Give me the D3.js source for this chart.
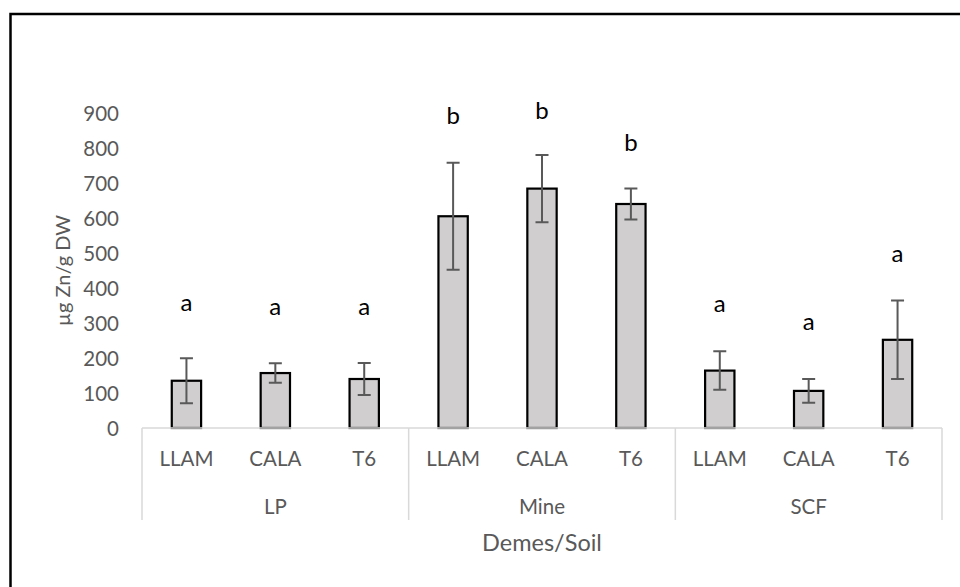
<!DOCTYPE html>
<html>
<head>
<meta charset="utf-8">
<script src="https://cdn.jsdelivr.net/npm/d3@7/dist/d3.min.js"></script>
<style>
  html, body { margin: 0; padding: 0; background: #fff; }
  svg { display: block; }
  text { font-family: Lato, "Open Sans", sans-serif; }
</style>
</head>
<body>
<svg id="chart" width="960" height="587"></svg>
<script>
// Zinc concentration by deme within each soil type
const soils   = ["LP", "Mine", "SCF"];
const demes   = ["LLAM", "CALA", "T6"];
const means   = [135, 157, 140, 605, 684, 640, 164, 106, 252];
const errors  = [64, 28, 46, 153, 96, 44, 55, 34, 112];
const letters = ["a", "a", "a", "b", "b", "b", "a", "a", "a"];
const letterAt = [335, 323, 323, 870, 882, 792, 332, 280, 475];
const yTicks  = [0, 100, 200, 300, 400, 500, 600, 700, 800, 900];
const yTitle  = "µg Zn/g DW";
const xTitle  = "Demes/Soil";

const rows = [];
soils.forEach((s, si) => demes.forEach((d, di) => {
  const i = si * demes.length + di;
  rows.push({ key: s + "|" + d, soil: s, deme: d, mean: means[i], err: errors[i],
              letter: letters[i], letterAt: letterAt[i] });
}));

const svg = d3.select("#chart");
const plot = { left: 142, right: 942, top: 113, bottom: 428 };

const x = d3.scaleBand().domain(rows.map(r => r.key))
  .range([plot.left, plot.right]).padding(0);
const y = d3.scaleLinear().domain([0, 900]).range([plot.bottom, plot.top]);
const barW = x.bandwidth() * 0.33;
const cx = k => x(k) + x.bandwidth() / 2;

// outer frame
svg.append("rect")
  .attr("x", 10.5).attr("y", 14).attr("width", 1200).attr("height", 900)
  .attr("fill", "none").attr("stroke", "#000").attr("stroke-width", 2.5);

// y tick labels
svg.append("g").selectAll("text").data(yTicks).join("text")
  .attr("x", 119).attr("y", d => y(d) + 7.5)
  .attr("text-anchor", "end").attr("fill", "#595959")
  .style("font-size", "20.5px").text(d => d);

// y title
svg.append("text")
  .attr("transform", `translate(70,${(plot.top + plot.bottom) / 2}) rotate(-90)`)
  .attr("text-anchor", "middle").attr("fill", "#595959")
  .style("font-size", "20px").text(yTitle);

// bars
svg.append("g").selectAll("rect").data(rows).join("rect")
  .attr("x", d => cx(d.key) - barW / 2).attr("width", barW)
  .attr("y", d => y(d.mean)).attr("height", d => y(0) - y(d.mean))
  .attr("fill", "#d0cece").attr("stroke", "#000").attr("stroke-width", 2.2);

// error bars
const eb = svg.append("g").attr("stroke", "#595959").attr("stroke-width", 2).attr("fill", "none");
rows.forEach(d => {
  const c = cx(d.key), t = y(d.mean + d.err), b = y(d.mean - d.err), cap = 6.5;
  eb.append("path").attr("d",
    `M${c},${t}V${b}M${c - cap},${t}H${c + cap}M${c - cap},${b}H${c + cap}`);
});

// significance letters
svg.append("g").selectAll("text").data(rows).join("text")
  .attr("x", d => cx(d.key)).attr("y", d => y(d.letterAt))
  .attr("text-anchor", "middle").attr("fill", "#000")
  .style("font-size", "24px").text(d => d.letter);

// category axis: baseline and group separators
const axisColor = "#d9d9d9";
svg.append("line")
  .attr("x1", plot.left).attr("x2", plot.right)
  .attr("y1", plot.bottom).attr("y2", plot.bottom)
  .attr("stroke", axisColor).attr("stroke-width", 1.5);

const edges = soils.map(s => x(s + "|" + demes[0])).concat([plot.right]);
svg.append("g").selectAll("line").data(edges).join("line")
  .attr("x1", d => d).attr("x2", d => d)
  .attr("y1", plot.bottom).attr("y2", 520)
  .attr("stroke", axisColor).attr("stroke-width", 1.5);

// deme labels
svg.append("g").selectAll("text").data(rows).join("text")
  .attr("x", d => cx(d.key)).attr("y", 466)
  .attr("text-anchor", "middle").attr("fill", "#595959")
  .style("font-size", "20.5px").text(d => d.deme);

// soil labels
svg.append("g").selectAll("text").data(soils).join("text")
  .attr("x", s => cx(s + "|" + demes[1])).attr("y", 514)
  .attr("text-anchor", "middle").attr("fill", "#595959")
  .style("font-size", "20.5px").text(s => s);

// x title
svg.append("text")
  .attr("x", (plot.left + plot.right) / 2).attr("y", 551)
  .attr("text-anchor", "middle").attr("fill", "#595959")
  .style("font-size", "23.5px").text(xTitle);
</script>
</body>
</html>
